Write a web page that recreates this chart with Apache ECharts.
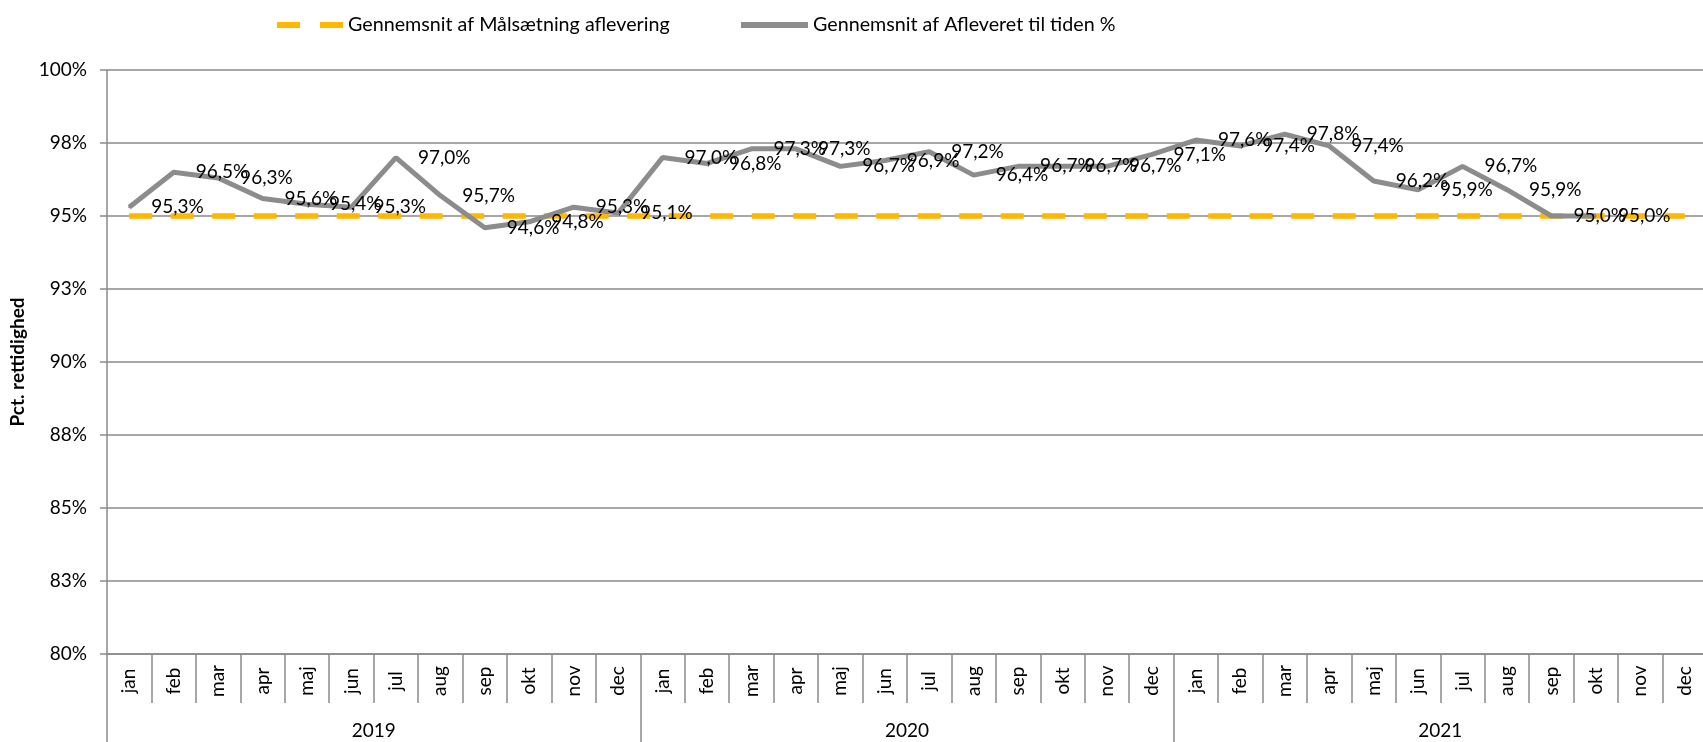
<!DOCTYPE html>
<html>
<head>
<meta charset="utf-8">
<script src="https://cdn.jsdelivr.net/npm/echarts@6/dist/echarts.min.js"></script>
<style>html,body{margin:0;padding:0;background:#fff}#c{width:1703px;height:742px}</style>
</head>
<body>
<div id="c"></div>
<script>
var months = ['jan','feb','mar','apr','maj','jun','jul','aug','sep','okt','nov','dec'];
var years = ['2019','2020','2021'];
var categories = [];
years.forEach(function(y){ months.forEach(function(m){ categories.push(m); }); });

var targetName = 'Gennemsnit af Målsætning aflevering';
var actualName = 'Gennemsnit af Afleveret til tiden %';

var targetValues = [
  95,95,95,95,95,95,95,95,95,95,95,95,
  95,95,95,95,95,95,95,95,95,95,95,95,
  95,95,95,95,95,95,95,95,95,95,95,95
];
var actualValues = [
  95.3,96.5,96.3,95.6,95.4,95.3,97.0,95.7,94.6,94.8,95.3,95.1,
  97.0,96.8,97.3,97.3,96.7,96.9,97.2,96.4,96.7,96.7,96.7,97.1,
  97.6,97.4,97.8,97.4,96.2,95.9,96.7,95.9,95.0,95.0,null,null
];
var yTicks = {min: 80, max: 100, interval: 2.5};

var FONT = 'Lato';
var GRAY = '#8a8a8a';
var ORANGE = '#FFB700';
var LINEGRAY = '#8c8c8c';
var chart = echarts.init(document.getElementById('c'), null, {renderer: 'canvas'});
chart.setOption({
  animation: false,
  textStyle: {fontFamily: FONT},
  legend: [
    {left: 272, top: 10, itemWidth: 66, itemHeight: 6, itemGap: 0, data: [targetName],
     icon: 'path://M0,0H23V6H0Z M43,0H66V6H43Z',
     itemStyle: {color: ORANGE},
     textStyle: {fontFamily: FONT, fontSize: 19.7, color: '#000', padding: [0,0,0,0]}},
    {left: 736, top: 10, itemWidth: 67, itemHeight: 6, itemGap: 0, data: [actualName],
     icon: 'rect',
     itemStyle: {color: LINEGRAY},
     textStyle: {fontFamily: FONT, fontSize: 19.7, color: '#000', padding: [0,0,0,0]}}
  ],
  grid: {left: 107, right: -4, top: 70, bottom: 88, containLabel: false, outerBoundsMode: 'none'},
  xAxis: [
    {type: 'category', data: categories, position: 'bottom', boundaryGap: true,
     axisLine: {show: true, lineStyle: {color: GRAY, width: 1.5}},
     axisTick: {show: true, interval: 0, length: 49, lineStyle: {color: GRAY, width: 1.5}},
     axisLabel: {interval: 0, rotate: 90, align: 'center', verticalAlign: 'middle', margin: 27,
       fontFamily: FONT, fontSize: 19, color: '#000'}},
    {type: 'category', data: years, position: 'bottom', boundaryGap: true,
     axisLine: {show: false},
     axisTick: {show: true, interval: 0, length: 90, lineStyle: {color: GRAY, width: 1.5}},
     axisLabel: {interval: 0, margin: 67, fontFamily: FONT, fontSize: 19, color: '#000'}}
  ],
  yAxis: {
    type: 'value', min: yTicks.min, max: yTicks.max, interval: yTicks.interval,
    name: 'Pct. rettidighed', nameLocation: 'middle', nameGap: 78,
    nameTextStyle: {fontFamily: FONT, fontSize: 19, fontWeight: 'bold', color: '#000'},
    axisLine: {show: true, lineStyle: {color: GRAY, width: 1.5}},
    axisTick: {show: true, length: 7, lineStyle: {color: GRAY, width: 1.5}},
    splitLine: {show: true, lineStyle: {color: GRAY, width: 1.5}},
    axisLabel: {margin: 20, fontFamily: FONT, fontSize: 19, color: '#000',
      formatter: function(v){ return Math.round(v) + '%'; }}
  },
  series: [
    {name: targetName, type: 'line', data: targetValues, xAxisIndex: 0,
     symbol: 'none', color: ORANGE,
     lineStyle: {color: ORANGE, width: 5.5, type: [23, 18.5], cap: 'butt'}},
    {name: actualName, type: 'line', data: actualValues, xAxisIndex: 0,
     symbol: 'circle', symbolSize: 2, showAllSymbol: true, color: LINEGRAY,
     itemStyle: {color: LINEGRAY},
     lineStyle: {color: LINEGRAY, width: 5},
     label: {show: true, position: 'right', distance: 21, fontFamily: FONT, fontSize: 19, color: '#000',
       formatter: function(p){ return p.value == null ? '' : p.value.toFixed(1).replace('.', ',') + '%'; }}}
  ]
});
</script>
</body>
</html>
